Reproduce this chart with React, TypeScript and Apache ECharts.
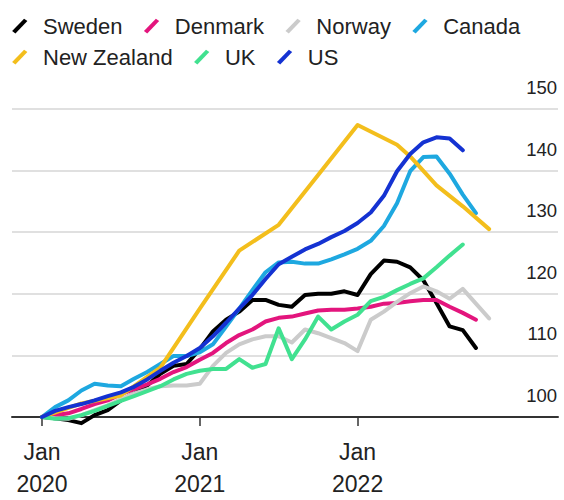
import React, { useEffect, useRef } from "react";
import * as echarts from "echarts";

// Monthly house price indices, Jan 2020 = 100 (month 0 = Jan 2020)
const sweden = [100, 99.8, 99.5, 99.0, 100.3, 101.1, 102.7, 103.8, 105.1, 107.0, 108.3, 108.6, 111.0, 113.9, 115.8, 117.1, 119.0, 119.0, 118.2, 117.9, 119.8, 120.0, 120.0, 120.4, 119.8, 123.2, 125.4, 125.2, 124.3, 122.2, 118.5, 114.7, 114.1, 111.2];
const denmark = [100, 100.3, 100.6, 101.3, 102.1, 102.7, 103.7, 104.5, 105.3, 106.2, 107.3, 108.1, 109.3, 110.4, 112.0, 113.3, 114.2, 115.5, 116.1, 116.3, 116.8, 117.3, 117.4, 117.4, 117.6, 117.9, 118.4, 118.5, 118.8, 119.0, 119.0, 117.9, 116.9, 115.8];
const norway = [100, 99.8, 99.7, 100.3, 101.1, 101.9, 102.9, 103.8, 104.5, 105.0, 105.1, 105.1, 105.4, 108.3, 110.4, 111.8, 112.6, 113.1, 113.1, 112.1, 114.2, 113.6, 112.8, 112.0, 110.7, 115.8, 117.1, 118.7, 120.1, 121.2, 120.4, 119.2, 120.8, 118.4, 116.0];
const canada = [100, 101.6, 102.7, 104.3, 105.4, 105.1, 105.0, 106.2, 107.3, 108.6, 109.9, 109.9, 110.5, 111.8, 114.7, 117.6, 120.6, 123.5, 125.1, 125.2, 124.9, 124.9, 125.6, 126.4, 127.3, 128.6, 131.0, 134.7, 139.9, 142.2, 142.3, 139.5, 136.1, 133.1];
const uk = [100, 99.7, 99.8, 100.3, 101.0, 101.8, 102.6, 103.4, 104.2, 105.0, 106.1, 107.0, 107.5, 107.8, 107.8, 109.4, 108.0, 108.6, 114.4, 109.4, 112.6, 116.3, 114.2, 115.5, 116.6, 118.8, 119.5, 120.6, 121.6, 122.5, 124.3, 126.2, 128.0];
const us = [100, 101.0, 101.6, 102.1, 102.7, 103.4, 104.0, 104.9, 106.1, 107.5, 108.8, 109.9, 111.2, 113.1, 115.3, 117.6, 119.8, 122.4, 124.8, 126.0, 127.2, 128.1, 129.2, 130.2, 131.5, 133.2, 135.9, 139.9, 142.7, 144.6, 145.4, 145.2, 143.3];

// New Zealand is reported at irregular intervals
const nzMonths = [0, 3, 6, 9, 12, 15, 18, 21, 24, 27, 28, 30, 32, 34];
const nzValues = [100, 102.2, 103.5, 108.0, 117.6, 127.0, 131.2, 139.3, 147.4, 144.2, 142.3, 137.6, 134.2, 130.5];

const tickMonths = [0, 12, 24];
const tickLabels = ["Jan\n2020", "Jan\n2021", "Jan\n2022"];

const COLORS: Record<string, string> = {
  Sweden: "#000000",
  Denmark: "#e3157d",
  Norway: "#cbcbcb",
  Canada: "#1ea8e0",
  "New Zealand": "#f3be1c",
  UK: "#41e190",
  US: "#1432d2",
};

const monthly = (vals: number[]) => vals.map((v, i) => [i, v]);

const seriesData: [string, number[][]][] = [
  ["Sweden", monthly(sweden)],
  ["Denmark", monthly(denmark)],
  ["Norway", monthly(norway)],
  ["Canada", monthly(canada)],
  ["New Zealand", nzMonths.map((m, i) => [m, nzValues[i]])],
  ["UK", monthly(uk)],
  ["US", monthly(us)],
];

// slanted stroke used as the legend key, padded to the right for the label gap
const SLASH =
  "path://M0.5,15.2 L14.6,0.6 L18.5,3.4 L4.4,18 Z M0,0 L0,0 M31,18.5 L31,18.5";

const FONT = "'Liberation Sans', Arial, Helvetica, sans-serif";

const legendBase = {
  left: 11.7,
  itemGap: 21,
  itemWidth: 26.3,
  itemHeight: 15.7,
  icon: SLASH,
  padding: 0,
  selectedMode: false,
  itemStyle: { borderWidth: 0 },
  textStyle: { fontSize: 22, color: "#222", fontFamily: FONT },
};

export default function App() {
  const ref = useRef<HTMLDivElement>(null);

  useEffect(() => {
    if (!ref.current) return;
    const chart = echarts.init(ref.current, null, { renderer: "svg" });
    chart.setOption({
      animation: false,
      backgroundColor: "#ffffff",
      textStyle: { fontFamily: FONT },
      legend: [
        { ...legendBase, top: 15, data: ["Sweden", "Denmark", "Norway", "Canada"] },
        { ...legendBase, top: 46, data: ["New Zealand", "UK", "US"] },
      ],
      grid: { left: 12, right: 6, top: 109, bottom: 78, containLabel: false },
      xAxis: {
        type: "value",
        min: -2.28,
        max: 39.24,
        axisLine: { show: true, lineStyle: { color: "#333", width: 2 } },
        axisTick: {
          show: true,
          customValues: tickMonths,
          length: 9,
          lineStyle: { color: "#333", width: 1.5 },
        },
        axisLabel: {
          customValues: tickMonths,
          formatter: (v: number) => tickLabels[tickMonths.indexOf(Math.round(v))] ?? "",
          fontSize: 23,
          lineHeight: 32,
          color: "#222",
          margin: 19,
        },
        splitLine: { show: false },
      },
      yAxis: {
        type: "value",
        position: "right",
        min: 100,
        max: 150,
        interval: 10,
        axisLine: { show: false },
        axisTick: { show: false },
        axisLabel: {
          inside: true,
          margin: 1,
          verticalAlign: "bottom",
          padding: [0, 0, 12, 0],
          fontSize: 18.5,
          color: "#222",
        },
        splitLine: { lineStyle: { color: "#d6d6d6", width: 1.5 } },
      },
      series: seriesData.map(([name, data]) => ({
        name,
        type: "line",
        data,
        color: COLORS[name],
        showSymbol: false,
        symbol: "none",
        clip: false,
        lineStyle: { width: 4, color: COLORS[name], cap: "round", join: "round" },
      })),
    });
    return () => chart.dispose();
  }, []);

  return (
    <div
      ref={ref}
      style={{ position: "fixed", left: 0, top: 0, width: 564, height: 500 }}
    />
  );
}
